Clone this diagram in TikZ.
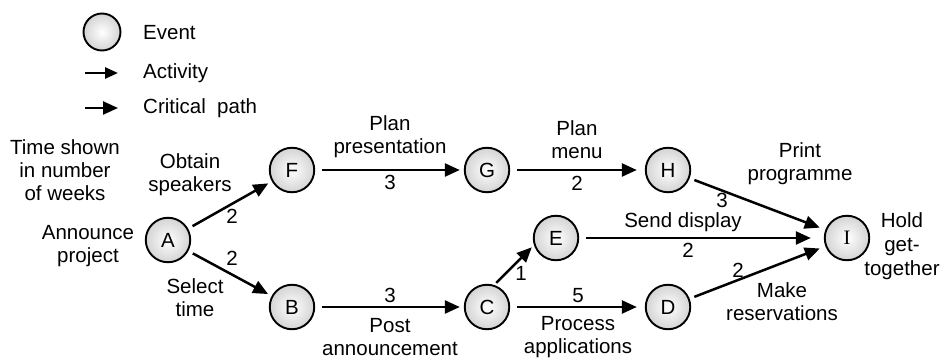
\documentclass[tikz,border=0pt]{standalone}
\usepackage{fontspec}
\setmainfont{Liberation Sans}
\newfontfamily\romanfont{Liberation Serif}
\usetikzlibrary{arrows.meta}

\tikzset{
  event/.style={circle,draw,line width=1.9pt,minimum size=44.5pt,inner sep=0pt,
    inner color=white,outer color=black!17},
  act/.style={-{Triangle[length=15pt,width=13pt]},line width=2.5pt,
    shorten <=5pt,shorten >=4pt},
  lbl/.style={align=center,inner sep=0pt}
}

\begin{document}
\begin{tikzpicture}[x=1pt,y=-1pt,font=\fontsize{20.5}{23}\selectfont]
  \useasboundingbox (0,0) rectangle (942,358);

  % key
  \node[event,minimum size=37pt] (keyevent) at (102,32) {};
  \node[anchor=west,inner sep=0pt] (keyeventtxt) at (143,33) {Event};
  \coordinate (acts) at (85,73);
  \coordinate (acte) at (118,73);
  \coordinate (crits) at (85,108);
  \coordinate (crite) at (118,108);
  \draw[-{Triangle[length=13pt,width=11pt]},line width=2.5pt] (acts) -- (acte);
  \draw[-{Triangle[length=15pt,width=13pt]},line width=2.5pt] (crits) -- (crite);
  \node[anchor=west,inner sep=0pt] (keyact) at (143,73) {Activity};
  \node[anchor=west,inner sep=0pt] (keycrit) at (143,108) {Critical~ path};

  % events
  \node[event] (A) at (168,240) {A};
  \node[event] (F) at (292,170) {F};
  \node[event] (B) at (292,307) {B};
  \node[event] (G) at (487,170) {G};
  \node[event] (C) at (487,307) {C};
  \node[event] (E) at (556,238) {E};
  \node[event] (H) at (668,170) {H};
  \node[event] (D) at (668,307) {D};
  \node[event] (I) at (847,238) {\romanfont I};

  % activities
  \draw[act] (A) -- (F);
  \draw[act] (A) -- (B);
  \draw[act,shorten <=7pt] (F) -- (G);
  \draw[act,shorten <=7pt] (B) -- (C);
  \draw[act,shorten <=7pt,shorten >=8pt] (G) -- (H);
  \draw[act,shorten <=3pt,shorten >=3pt] (C.72) -- (E.198);
  \draw[act,shorten <=7pt,shorten >=8pt] (C) -- (D);
  \draw[act,shorten >=6pt] (H) -- (I);
  \draw[act,shorten <=7pt,shorten >=13pt] (E) -- (I);
  \draw[act,shorten >=6pt] (D) -- (I);

  % descriptions and durations
  \node[lbl] (note) at (65,170) {Time shown\\in number\\of weeks};
  \node[lbl] (tA) at (88,246) {Announce\\project};
  \node[lbl] (tAF) at (190,175) {Obtain\\speakers};
  \node[lbl] (wAF) at (232,216) {2};
  \node[lbl] (wAB) at (232,258) {2};
  \node[lbl] (tAB) at (195,298) {Select\\time};
  \node[lbl] (tFG) at (390,137) {Plan\\presentation};
  \node[lbl] (wFG) at (390,182) {3};
  \node[lbl] (tGH) at (577,140) {Plan\\menu};
  \node[lbl] (wGH) at (577,183) {2};
  \node[lbl] (wBC) at (390,295) {3};
  \node[lbl] (tBC) at (390,337) {Post\\announcement};
  \node[lbl] (wCE) at (521,273) {1};
  \node[lbl] (wCD) at (578,296) {5};
  \node[lbl] (tCD) at (578,337) {Process\\applications};
  \node[lbl] (tEI) at (683,222) {Send display};
  \node[lbl] (wEI) at (688,250) {2};
  \node[lbl] (tHI) at (800,164) {Print\\programme};
  \node[lbl] (wHI) at (722,200) {3};
  \node[lbl] (wDI) at (738,270) {2};
  \node[lbl] (tDI) at (782,302) {Make\\reservations};
  \node[lbl,font=\fontsize{20.5}{24}\selectfont] (tI) at (902,246) {Hold\\get-\\together};
\end{tikzpicture}
\end{document}
